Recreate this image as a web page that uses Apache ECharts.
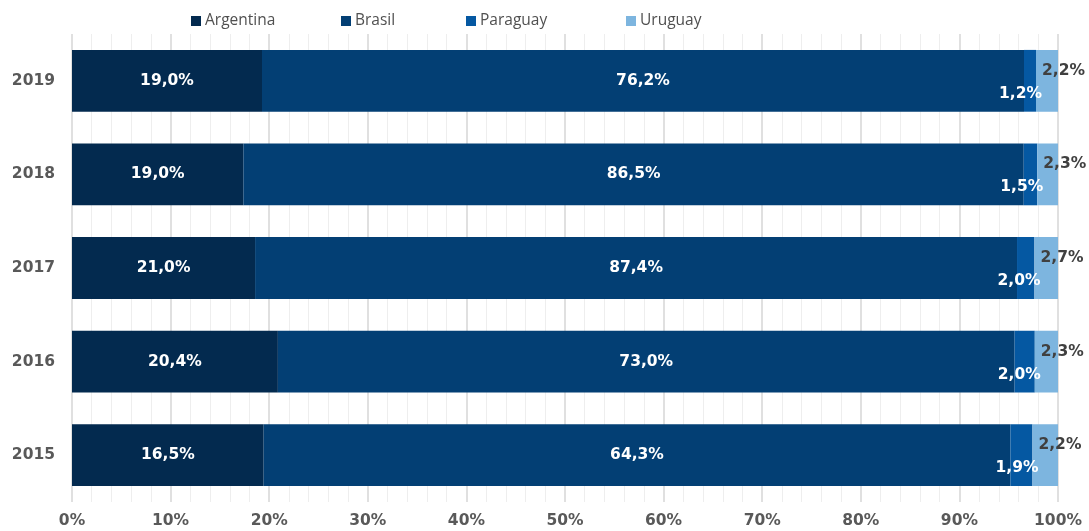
<!DOCTYPE html>
<html>
<head>
<meta charset="utf-8">
<script src="https://cdn.jsdelivr.net/npm/echarts@6/dist/echarts.min.js"></script>
<style>html,body{margin:0;padding:0;background:#fff}#c{width:1089px;height:531px}</style>
</head>
<body>
<div id="c"></div>
<script>
var years = ['2019', '2018', '2017', '2016', '2015'];
var argentina = [19.0, 19.0, 21.0, 20.4, 16.5];
var brasil = [76.2, 86.5, 87.4, 73.0, 64.3];
var paraguay = [1.2, 1.5, 2.0, 2.0, 1.9];
var uruguay = [2.2, 2.3, 2.7, 2.3, 2.2];
var seriesNames = ['Argentina', 'Brasil', 'Paraguay', 'Uruguay'];
var colors = ['#032a4f', '#033f74', '#0558a2', '#7db5df'];

var raw = [argentina, brasil, paraguay, uruguay];
var totals = years.map(function (y, i) {
  return raw.reduce(function (s, arr) { return s + arr[i]; }, 0);
});
function fmt(v) { return v.toFixed(1).replace('.', ',') + '%'; }

var labelFont = 'DejaVu Sans';
var fs = 15.5;
var labelStyles = [
  { show: true, position: 'inside', color: '#fff', fontWeight: 'bold', fontSize: fs, fontFamily: labelFont },
  { show: true, position: 'inside', color: '#fff', fontWeight: 'bold', fontSize: fs, fontFamily: labelFont },
  { show: true, position: ['100%', '50%'], align: 'right', verticalAlign: 'middle', offset: [6, 13], color: '#fff', fontWeight: 'bold', fontSize: fs, fontFamily: labelFont },
  { show: true, position: ['0%', '50%'], align: 'left', verticalAlign: 'middle', offset: [6, -10], color: '#404040', fontWeight: 'bold', fontSize: fs, fontFamily: labelFont }
];

var series = seriesNames.map(function (name, k) {
  return {
    name: name,
    type: 'bar',
    stack: 'total',
    barCategoryGap: '34%',
    itemStyle: { color: colors[k] },
    label: Object.assign({}, labelStyles[k], {
      formatter: function (p) { return fmt(raw[k][p.dataIndex]); }
    }),
    data: years.map(function (y, i) { return raw[k][i] / totals[i] * 100; })
  };
});

var legendLefts = [186, 336, 461, 621];
var legends = seriesNames.map(function (name, k) {
  return {
    data: [name],
    left: legendLefts[k],
    top: 8,
    icon: 'rect',
    itemWidth: 10,
    itemHeight: 10,
    itemGap: 0,
    textStyle: { color: '#505050', fontSize: 15.5, fontFamily: 'Open Sans', padding: [0, 0, 0, -1] }
  };
});

var chart = echarts.init(document.getElementById('c'));
chart.setOption({
  animation: false,
  color: colors,
  legend: legends,
  grid: { left: 72, right: 31, top: 34, bottom: 29, containLabel: false },
  xAxis: {
    type: 'value',
    min: 0,
    max: 100,
    interval: 10,
    axisLine: { show: false },
    axisTick: { show: false },
    minorTick: { show: false, splitNumber: 5 },
    splitLine: { show: true, lineStyle: { color: '#d6d6d6', width: 1.5 } },
    minorSplitLine: { show: true, lineStyle: { color: '#eeeeee', width: 1 } },
    axisLabel: { formatter: '{value}%', color: '#595959', fontWeight: 'bold', fontSize: fs, fontFamily: labelFont, margin: 11 }
  },
  yAxis: {
    type: 'category',
    data: years,
    inverse: true,
    axisLine: { show: false },
    axisTick: { show: false },
    axisLabel: { color: '#595959', fontWeight: 'bold', fontSize: fs, fontFamily: labelFont, margin: 17 }
  },
  series: series
});
</script>
</body>
</html>
